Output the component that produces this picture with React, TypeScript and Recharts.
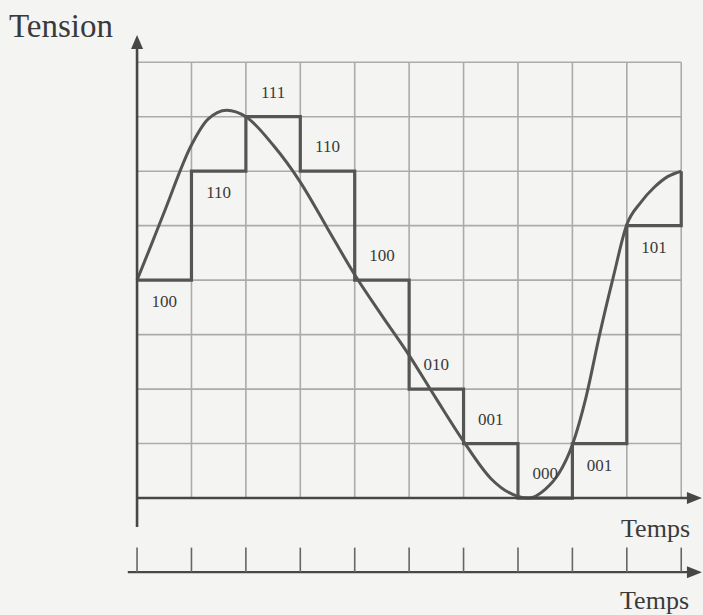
import React from "react";
import {
  ComposedChart,
  Line,
  Scatter,
  XAxis,
  YAxis,
  ReferenceLine,
} from "recharts";

// sampling instants and the quantized level held after each one
const sampleTimes = [0, 1, 2, 3, 4, 5, 6, 7, 8, 9, 10];
const sampleLevels = [4, 6, 7, 6, 4, 2, 1, 0, 1, 5, 6];

// 3-bit code written in each interval
const codes = ["100", "110", "111", "110", "100", "010", "001", "000", "001", "101"];
const codeSide = ["below", "below", "above", "above", "above", "above", "above", "above", "below", "below"];

// analog signal
const curveTimes = [0, 0.25, 0.5, 1, 1.3, 1.65, 2, 2.5, 3, 3.5, 4, 4.5, 5, 5.5, 6, 6.5, 7, 7.2, 7.5, 7.75, 8, 8.25, 8.5, 8.75, 9, 9.25, 9.5, 9.75, 10];
const curveValues = [4.0, 4.62, 5.25, 6.48, 6.95, 7.12, 7.0, 6.48, 5.8, 4.95, 4.1, 3.35, 2.62, 1.82, 1.04, 0.36, 0.03, 0.0, 0.16, 0.45, 0.98, 1.85, 3.0, 4.05, 5.02, 5.42, 5.7, 5.9, 6.0];

const gridCols = [0, 1, 2, 3, 4, 5, 6, 7, 8, 9, 10];
const gridRows = [1, 2, 3, 4, 5, 6, 7, 8];
const timeTicks = [0, 1, 2, 3, 4, 5, 6, 7, 8, 9, 10];

const INK = "#555";
const AXIS = "#474747";
const GRID = "#ababab";
const FONT = "'Liberation Serif', 'DejaVu Serif', serif";

const AXIS_END = 10.38;
const LOW_AXIS = -1.36;

const curveData = curveTimes.map((x, i) => ({ x, y: curveValues[i] }));
const stepData = sampleTimes.map((x, i) => ({ x, y: sampleLevels[i] }));
const codeData = codes.map((c, i) => ({
  x: i + 0.5,
  y: sampleLevels[i] + (codeSide[i] === "above" ? 0.45 : -0.4),
  code: c,
}));

const upArrow = (p: any) => (
  <path d={`M${p.cx},${p.cy} L${p.cx - 6},${p.cy + 14} L${p.cx + 6},${p.cy + 14} Z`} fill={AXIS} />
);
const rightArrow = (p: any) => (
  <path d={`M${p.cx},${p.cy} L${p.cx - 15},${p.cy - 6} L${p.cx - 15},${p.cy + 6} Z`} fill={AXIS} />
);
const codeLabel = (p: any) => (
  <text
    x={p.cx}
    y={p.cy}
    textAnchor="middle"
    dominantBaseline="central"
    fontFamily={FONT}
    fontSize={17}
    fill="#3a3a3a"
  >
    {p.payload.code}
  </text>
);

export default function App() {
  return (
    <div style={{ position: "absolute", left: 0, top: 0, width: 703, height: 615, background: "#f4f4f2" }}>
      <ComposedChart width={703} height={615} margin={{ top: 35, right: 0, bottom: 8, left: 1 }}>
        <XAxis type="number" dataKey="x" domain={[-2.5, 10.4]} hide allowDataOverflow />
        <YAxis type="number" dataKey="y" domain={[-2, 8.5]} hide allowDataOverflow />

        {gridRows.map((r) => (
          <ReferenceLine key={"h" + r} segment={[{ x: 0, y: r }, { x: 10, y: r }]} stroke={GRID} strokeWidth={1.6} />
        ))}
        {gridCols.map((c) => (
          <ReferenceLine key={"v" + c} segment={[{ x: c, y: 0 }, { x: c, y: 8 }]} stroke={GRID} strokeWidth={1.6} />
        ))}

        <Line
          data={curveData}
          dataKey="y"
          type="monotone"
          stroke={INK}
          strokeWidth={3}
          dot={false}
          isAnimationActive={false}
        />
        <Line
          data={stepData}
          dataKey="y"
          type="stepAfter"
          stroke={INK}
          strokeWidth={3.2}
          dot={false}
          isAnimationActive={false}
        />

        {/* axes of the top graph */}
        <ReferenceLine segment={[{ x: 0, y: 0 }, { x: AXIS_END - 0.1, y: 0 }]} stroke={AXIS} strokeWidth={2.6} />
        <ReferenceLine segment={[{ x: 0, y: -0.53 }, { x: 0, y: 8.4 }]} stroke={AXIS} strokeWidth={2.6} />

        {/* time line below */}
        <ReferenceLine segment={[{ x: -0.17, y: LOW_AXIS }, { x: AXIS_END - 0.1, y: LOW_AXIS }]} stroke={AXIS} strokeWidth={2.2} />
        {timeTicks.map((t) => (
          <ReferenceLine key={"t" + t} segment={[{ x: t, y: LOW_AXIS }, { x: t, y: LOW_AXIS + 0.45 }]} stroke="#666" strokeWidth={1.6} />
        ))}

        <Scatter data={[{ x: 0, y: 8.5 }]} shape={upArrow} isAnimationActive={false} />
        <Scatter data={[{ x: AXIS_END, y: 0 }, { x: AXIS_END, y: LOW_AXIS }]} shape={rightArrow} isAnimationActive={false} />
        <Scatter data={codeData} shape={codeLabel} isAnimationActive={false} />
      </ComposedChart>

      <svg width={703} height={615} style={{ position: "absolute", left: 0, top: 0, pointerEvents: "none" }}>
        <text x={9} y={37} fontFamily={FONT} fontSize={33} fill="#3a3a3a">Tension</text>
        <text x={690} y={537} textAnchor="end" fontFamily={FONT} fontSize={26} fill="#3a3a3a">Temps</text>
        <text x={689} y={609} textAnchor="end" fontFamily={FONT} fontSize={26} fill="#3a3a3a">Temps</text>
      </svg>
    </div>
  );
}
